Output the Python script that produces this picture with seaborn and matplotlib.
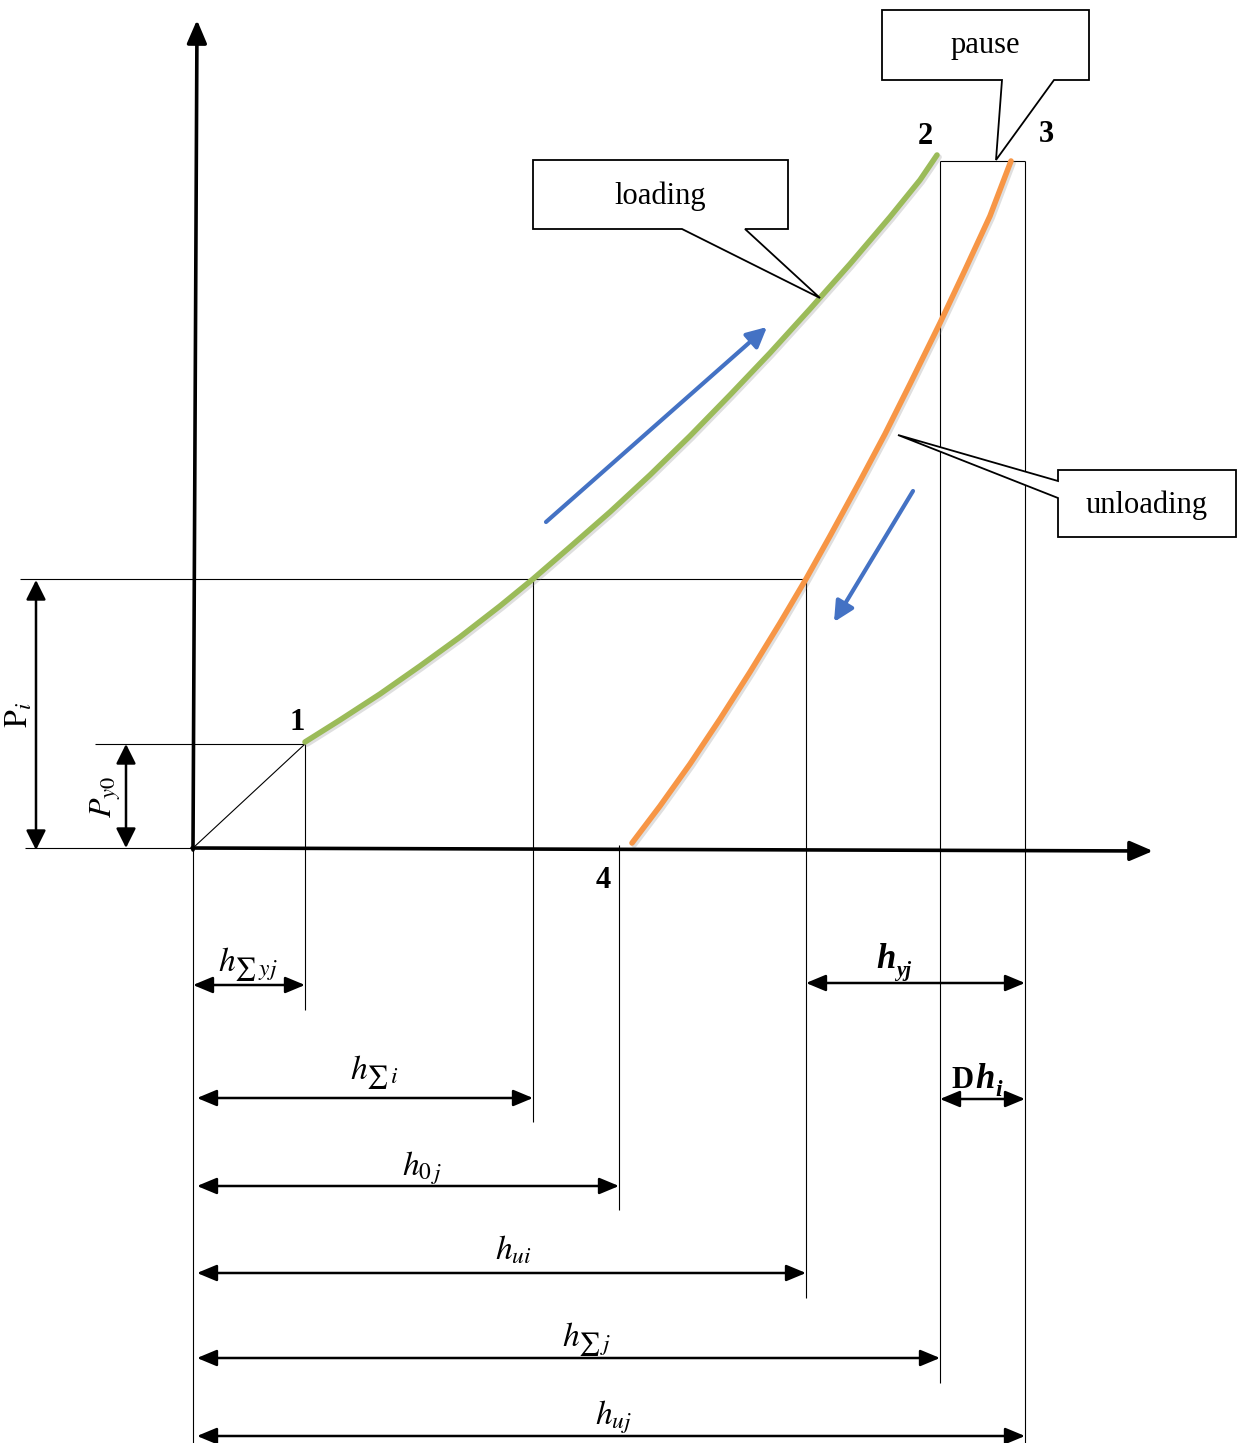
import numpy as np
import pandas as pd
import seaborn as sns
import matplotlib.pyplot as plt
import matplotlib.patheffects as pe
from matplotlib.patches import Polygon

# diagram, in picture units (x right, y down)
loading_x = [305, 340, 380, 420, 460, 500, 533, 570, 610, 650, 690, 730, 770, 810, 850, 890, 920, 937]
loading_y = [742, 720, 694, 666, 637, 606, 579, 547, 512, 475, 436, 395, 353, 309, 264, 217, 180, 155]
unloading_x = [632, 660, 690, 720, 750, 780, 806, 830, 860, 885, 910, 940, 965, 990, 1011]
unloading_y = [843, 806, 764, 719, 672, 623, 579, 536, 481, 434, 384, 323, 270, 216, 161]

# thin guide lines
vguide_x = [193, 305, 533, 619, 806, 940, 1025]
vguide_top = [848, 744, 579, 845, 579, 161, 161]
vguide_bottom = [1443, 1010, 1122, 1210, 1298, 1383, 1443]
hguide_y = [579, 744, 848, 161]
hguide_left = [20, 95, 25, 940]
hguide_right = [806, 305, 193, 1025]

# dimension arrows
hdim_y = [985, 1098, 1186, 1273, 1358, 1436]
hdim_x0 = [193, 197, 197, 197, 197, 197]
hdim_x1 = [305, 533, 619, 806, 940, 1025]
hdim_labels = [r'$h_{\sum\,yj}$', r'$h_{\sum\,i}$', r'$h_{0\,j}$', r'$h_{ui}$', r'$h_{\sum\,j}$', r'$h_{uj}$']
hdim_label_x = [248, 375, 422, 513, 587, 613]
hdim_label_y = [965, 1073, 1168, 1250, 1340, 1417]

vdim_x = [36, 126]
vdim_y0 = [580, 744]
vdim_y1 = [850, 848]
vdim_labels = [r'$\mathrm{P}_i$', r'$P_{y0}$']
vdim_label_x = [20, 106]
vdim_label_y = [715, 797]

point_labels = ['1', '2', '3', '4']
point_x = [297, 925, 1046, 603]
point_y = [722, 137, 135, 880]

callout_text = ['loading', 'pause', 'unloading']
callout_tx = [660, 985, 1147]
callout_ty = [196, 46, 505]
callout_shapes = [
    [(533, 160), (788, 160), (788, 229), (745, 229), (820, 298), (682, 229), (533, 229)],
    [(882, 10), (1089, 10), (1089, 80), (1054, 80), (996, 160), (1002, 80), (882, 80)],
    [(1058, 470), (1236, 470), (1236, 537), (1058, 537), (1058, 498), (898, 435), (1058, 481)],
]

sns.set_theme(style="white")
plt.rcParams['font.family'] = ['Liberation Serif', 'DejaVu Serif']
plt.rcParams['mathtext.fontset'] = 'stix'
plt.rcParams['text.color'] = 'black'

fig = plt.figure(figsize=(12.41, 14.43), dpi=100)
ax = fig.add_axes([0, 0, 1, 1])

# guides
ax.vlines(vguide_x, vguide_top, vguide_bottom, color='black', lw=0.8)
ax.hlines(hguide_y, hguide_left, hguide_right, color='black', lw=0.8)
ax.plot([193, 305], [848, 744], color='black', lw=0.8)

# main axes with arrows
axis_kw = dict(arrowstyle='-|>,head_length=0.7,head_width=0.3', lw=2.6, color='black',
               mutation_scale=20, shrinkA=0, shrinkB=0)
ax.annotate('', xy=(197, 20), xytext=(193, 850), arrowprops=axis_kw)
ax.annotate('', xy=(1153, 851), xytext=(192, 848), arrowprops=axis_kw)

# curves
shadow = [pe.SimpleLineShadow(offset=(1.5, -1.5), alpha=0.25, shadow_color='gray'), pe.Normal()]
df_load = pd.DataFrame({'x': loading_x, 'y': loading_y})
df_unload = pd.DataFrame({'x': unloading_x, 'y': unloading_y})
sns.lineplot(data=df_load, x='x', y='y', sort=False, estimator=None, color='#9BBB59', lw=4, ax=ax,
             path_effects=shadow)
sns.lineplot(data=df_unload, x='x', y='y', sort=False, estimator=None, color='#F79646', lw=4, ax=ax,
             path_effects=shadow)
ax.set_xlim(0, 1241)
ax.set_ylim(1443, 0)
ax.axis('off')

# blue direction arrows
blue_kw = dict(arrowstyle='-|>,head_length=0.6,head_width=0.3', lw=3, color='#4472C4',
               mutation_scale=20, shrinkA=0, shrinkB=0)
ax.annotate('', xy=(767, 327), xytext=(546, 522), arrowprops=blue_kw)
ax.annotate('', xy=(834, 622), xytext=(913, 491), arrowprops=blue_kw)

# dimension arrows
dim_kw = dict(arrowstyle='<|-|>,head_length=0.6,head_width=0.25', lw=1.8, color='black',
              mutation_scale=20, shrinkA=0, shrinkB=0)
for y, x0, x1, lab, lx, ly in zip(hdim_y, hdim_x0, hdim_x1, hdim_labels, hdim_label_x, hdim_label_y):
    ax.annotate('', xy=(x1, y), xytext=(x0, y), arrowprops=dim_kw)
    ax.text(lx, ly, lab, fontsize=24, ha='center', va='center')
ax.annotate('', xy=(1025, 983), xytext=(806, 983), arrowprops=dim_kw)
ax.annotate('', xy=(1025, 1099), xytext=(940, 1099), arrowprops=dim_kw)
ax.text(886, 968, 'h', fontsize=25, fontweight='bold', fontstyle='italic', ha='center', va='baseline')
ax.text(896, 976, 'yj', fontsize=15, fontweight='bold', fontstyle='italic', ha='left', va='baseline')
ax.text(962, 1088, 'D', fontsize=22, fontweight='bold', ha='center', va='baseline')
ax.text(985, 1088, 'h', fontsize=25, fontweight='bold', fontstyle='italic', ha='center', va='baseline')
ax.text(995, 1096, 'i', fontsize=17, fontweight='bold', fontstyle='italic', ha='left', va='baseline')

vdim_kw = dict(dim_kw, arrowstyle='<|-|>,head_length=0.6,head_width=0.3')
for x, y0, y1, lab, lx, ly in zip(vdim_x, vdim_y0, vdim_y1, vdim_labels, vdim_label_x, vdim_label_y):
    ax.annotate('', xy=(x, y1), xytext=(x, y0), arrowprops=vdim_kw)
    ax.text(lx, ly, lab, fontsize=23, rotation=90, ha='center', va='center')

# point numbers
for lab, x, y in zip(point_labels, point_x, point_y):
    ax.text(x, y, lab, fontsize=22, fontweight='bold', ha='center', va='center')

# callouts
for shape, txt, tx, ty in zip(callout_shapes, callout_text, callout_tx, callout_ty):
    ax.add_patch(Polygon(shape, closed=True, facecolor='white', edgecolor='black', lw=1.3, zorder=3))
    ax.text(tx, ty, txt, fontsize=22, ha='center', va='center', zorder=4)

fig.savefig('out.png', dpi=100)
